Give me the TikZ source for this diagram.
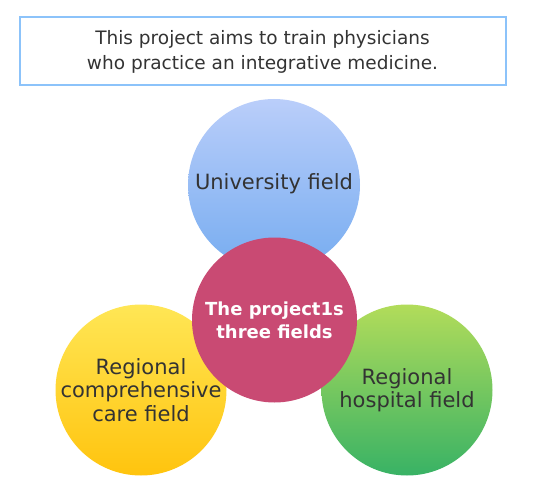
\documentclass[tikz,border=0pt]{standalone}
\usepackage{fontspec}
\setmainfont{DejaVu Sans}
\definecolor{boxline}{RGB}{140,195,250}
\definecolor{txt}{HTML}{333333}
\definecolor{bluetop}{HTML}{BACEFA}
\definecolor{bluebot}{HTML}{76ACF0}
\definecolor{pinkc}{HTML}{C94A73}
\definecolor{yeltop}{HTML}{FFE655}
\definecolor{yelbot}{HTML}{FFC40E}
\definecolor{grntop}{HTML}{B2DC5A}
\definecolor{grnbot}{HTML}{38B265}
\begin{document}
\begin{tikzpicture}[x=1pt,y=-1pt,
  lbl/.style={text=txt,align=center,font=\fontsize{21}{23.5}\selectfont},
  wlbl/.style={text=white,align=center,font=\bfseries\fontsize{18}{23}\selectfont}]
\useasboundingbox (0,0) rectangle (547,487);
\node[draw=boxline,line width=2pt,minimum width=486pt,minimum height=68pt,
  text=txt,align=center,font=\fontsize{18.5}{25}\selectfont] (top) at (262.5,51.5)
  {This project aims to train physicians\\ who practice an integrative medicine.};
\shade[top color=bluetop,bottom color=bluebot] (274,185) circle (86);
\shade[top color=yeltop,bottom color=yelbot] (141,390) circle (85.5);
\shade[top color=grntop,bottom color=grnbot] (407,390) circle (85.5);
\fill[pinkc] (274.5,320) circle (82.5);
\node[lbl] (univ) at (274,184) {University field};
\node[lbl] (care) at (141,390) {Regional\\ comprehensive\\ care field};
\node[lbl] (hosp) at (407,390) {Regional\\ hospital field};
\node[wlbl] (proj) at (274.5,320) {The project1s\\ three fields};
\end{tikzpicture}
\end{document}
